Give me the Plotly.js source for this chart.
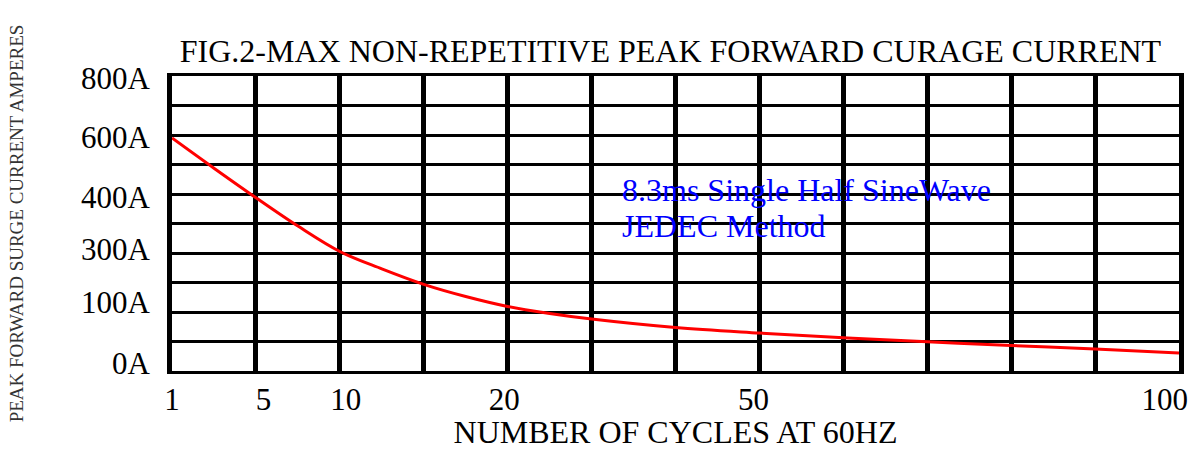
<!DOCTYPE html>
<html><head><meta charset="utf-8">
<script src="https://cdn.plot.ly/plotly-3.0.1.min.js"></script>
<style>html,body{margin:0;padding:0;background:#fff}#chart{width:1199px;height:450px}</style>
</head><body><div id="chart"></div>
<script>
// x positions in grid-column units (12 columns), y in chart units (0..800, 80 per row)
const gridPos = [0, 0.5, 1, 1.5, 2, 2.5, 3, 3.5, 4, 4.5, 5, 6, 7, 8, 9, 10, 11, 12];
const current = [632, 550, 470, 393, 324, 277, 235, 202, 175, 156, 141, 118, 103, 90, 79, 69, 60, 49];
const xTickPos = [0, 1.09, 2.07, 3.96, 6.93, 11.83];
const xTickText = ['1', '5', '10', '20', '50', '100'];
const yTickVals = [22, 187, 331, 472, 635, 795];
const yTickText = ['0A', '100A', '300A', '400A', '600A', '800A'];
const noteLines = ['8.3ms Single Half SineWave', 'JEDEC Method'];

const FONT = 'Liberation Serif, Times New Roman, serif';

const data = [{
  type: 'scatter', mode: 'lines',
  x: gridPos, y: current,
  line: {color: '#ff0000', width: 3, shape: 'spline'},
  hoverinfo: 'skip', showlegend: false
}];

const layout = {
  width: 1199, height: 450,
  margin: {l: 172, r: 20, t: 76, b: 79},
  paper_bgcolor: '#ffffff', plot_bgcolor: '#ffffff',
  font: {family: FONT, color: '#000000'},
  showlegend: false,
  title: {text: 'FIG.2-MAX NON-REPETITIVE PEAK FORWARD CURAGE CURRENT',
    font: {family: FONT, size: 32, color: '#000'},
    xref: 'paper', x: 0.495, xanchor: 'center', yref: 'container', y: 0.887, yanchor: 'middle'},
  xaxis: {range: [0, 12], tickmode: 'array', tickvals: xTickPos, ticktext: xTickText,
    ticks: '', ticklabelstandoff: -1, tickfont: {family: FONT, size: 31, color: '#000'},
    showgrid: false, zeroline: false,
    minor: {tickmode: 'linear', tick0: 0, dtick: 1, showgrid: true, gridcolor: '#000', gridwidth: 5, ticks: ''},
    showline: true, linecolor: '#000', linewidth: 3, mirror: true, fixedrange: true,
    title: {text: 'NUMBER OF CYCLES AT 60HZ', font: {family: FONT, size: 32, color: '#000'}, standoff: 12}},
  yaxis: {range: [0, 800], tickmode: 'array', tickvals: yTickVals, ticktext: yTickText,
    ticks: '', ticklabelstandoff: 11, tickfont: {family: FONT, size: 31, color: '#000'},
    showgrid: false, zeroline: false,
    minor: {tickmode: 'linear', tick0: 0, dtick: 80, showgrid: true, gridcolor: '#000', gridwidth: 3, ticks: ''},
    showline: true, linecolor: '#000', linewidth: 5, mirror: true, fixedrange: true,
    title: {text: 'PEAK FORWARD SURGE CURRENT AMPERES', font: {family: FONT, size: 19, color: '#333'}, standoff: 54}},
  annotations: [
    {text: noteLines[0], xref: 'paper', yref: 'paper', x: 0.445, y: 0.614, xanchor: 'left', yanchor: 'middle',
     showarrow: false, font: {family: FONT, size: 32, color: '#0000ff'}},
    {text: noteLines[1], xref: 'paper', yref: 'paper', x: 0.445, y: 0.492, xanchor: 'left', yanchor: 'middle',
     showarrow: false, font: {family: FONT, size: 32, color: '#0000ff'}}
  ]
};

Plotly.newPlot('chart', data, layout, {displayModeBar: false, staticPlot: true});
</script>
</body></html>
